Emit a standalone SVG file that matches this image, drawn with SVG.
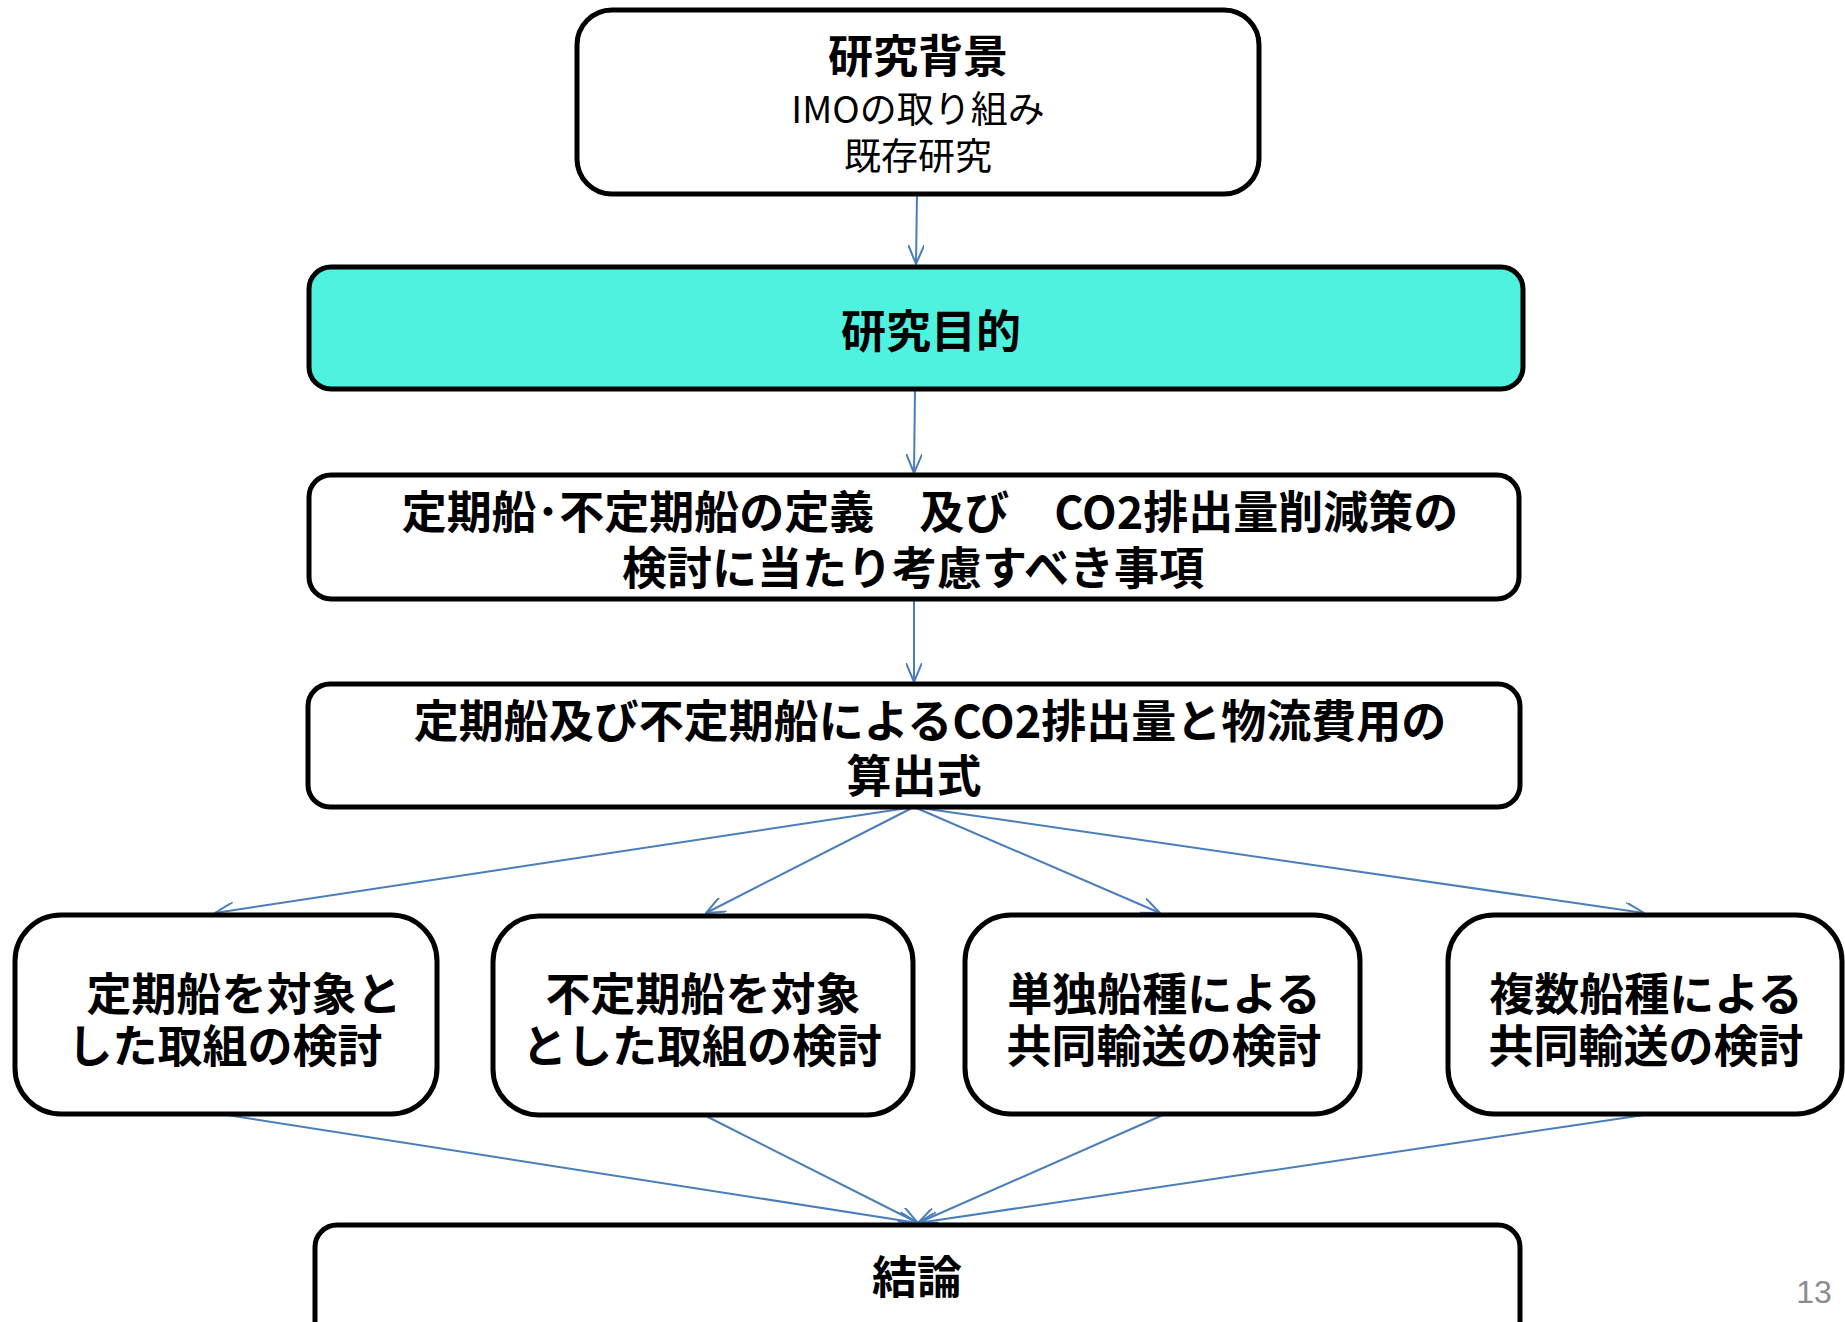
<svg xmlns="http://www.w3.org/2000/svg" width="1845" height="1322" viewBox="0 0 1845 1322">
<style>
.box{fill:#fff;stroke:#000;stroke-width:5}
.cyan{fill:#4EF2DF}
.t{font-family:"Noto Sans CJK JP","Noto Sans",sans-serif;fill:#000;text-anchor:middle;dominant-baseline:central}
.b{font-weight:bold;font-size:45px}
.n{font-weight:normal;font-size:37px}
.c{fill:none;stroke:#4A7EBB;stroke-width:2;marker-end:url(#ah)}
</style>
<defs>
<marker id="ah" markerUnits="userSpaceOnUse" viewBox="0 0 20 16" refX="19" refY="8" markerWidth="20" markerHeight="16" orient="auto">
<path d="M0,0 L19,8 L0,16" fill="none" stroke="#4A7EBB" stroke-width="2"/>
</marker>
</defs>
<rect width="1845" height="1322" fill="#fff"/>
<g id="connectors">
<line class="c" x1="917" y1="194" x2="916" y2="264"/>
<line class="c" x1="915" y1="389" x2="914" y2="473"/>
<line class="c" x1="914" y1="599" x2="914" y2="682"/>
<line class="c" x1="914" y1="807" x2="215" y2="913"/>
<line class="c" x1="914" y1="807" x2="706" y2="913"/>
<line class="c" x1="914" y1="807" x2="1160" y2="913"/>
<line class="c" x1="914" y1="807" x2="1644" y2="913"/>
<line class="c" x1="227" y1="1115" x2="918" y2="1223"/>
<line class="c" x1="704" y1="1115" x2="918" y2="1223"/>
<line class="c" x1="1163" y1="1115" x2="918" y2="1223"/>
<line class="c" x1="1644" y1="1115" x2="918" y2="1223"/>
</g>
<g id="n1">
<rect class="box" x="577" y="10" width="682" height="184" rx="35"/>
<text class="t"><tspan class="b" x="918" y="53">研究背景</tspan><tspan class="n" x="918" y="107">IMOの取り組み</tspan><tspan class="n" x="918" y="154">既存研究</tspan></text>
</g>
<g id="n2">
<rect class="box cyan" x="309" y="267" width="1214" height="122" rx="22"/>
<text class="t b" x="931" y="328">研究目的</text>
</g>
<g id="n3">
<rect class="box" x="309" y="475" width="1210" height="124" rx="22"/>
<text class="t b"><tspan x="930" y="509">定期船･不定期船の定義　及び　CO2排出量削減策の</tspan><tspan x="913" y="565">検討に当たり考慮すべき事項</tspan></text>
</g>
<g id="n4">
<rect class="box" x="308" y="684" width="1212" height="123" rx="22"/>
<text class="t b"><tspan x="930" y="718">定期船及び不定期船によるCO2排出量と物流費用の</tspan><tspan x="914" y="773">算出式</tspan></text>
</g>
<g id="n5">
<rect class="box" x="15" y="915" width="422" height="199" rx="46"/>
<text class="t b"><tspan x="244" y="991">定期船を対象と</tspan><tspan x="225" y="1043">した取組の検討</tspan></text>
</g>
<g id="n6">
<rect class="box" x="493" y="916" width="420" height="199" rx="46"/>
<text class="t b"><tspan x="703" y="991">不定期船を対象</tspan><tspan x="702" y="1043">とした取組の検討</tspan></text>
</g>
<g id="n7">
<rect class="box" x="965" y="915" width="395" height="199" rx="46"/>
<text class="t b"><tspan x="1164" y="991">単独船種による</tspan><tspan x="1164" y="1043">共同輸送の検討</tspan></text>
</g>
<g id="n8">
<rect class="box" x="1448" y="915" width="394" height="199" rx="46"/>
<text class="t b"><tspan x="1646" y="991">複数船種による</tspan><tspan x="1646" y="1043">共同輸送の検討</tspan></text>
</g>
<g id="n9">
<rect class="box" x="315" y="1225" width="1205" height="120" rx="22"/>
<text class="t b" x="917" y="1274">結論</text>
</g>
<text x="1814" y="1292" font-family="'Liberation Sans',sans-serif" font-size="32" fill="#8c8c8c" text-anchor="middle" dominant-baseline="central">13</text>
</svg>
